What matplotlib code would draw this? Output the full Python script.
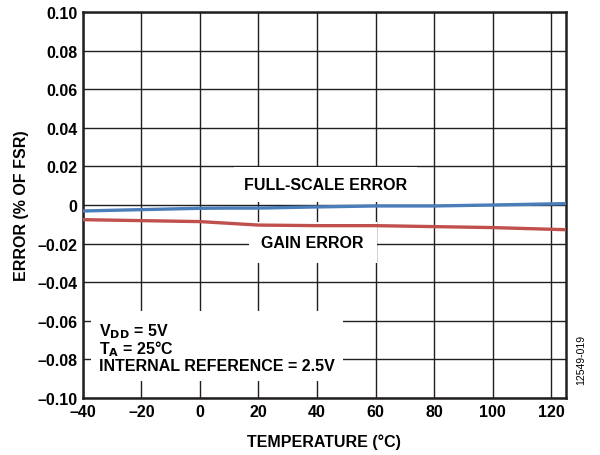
import matplotlib
matplotlib.use("Agg")
import matplotlib.pyplot as plt
import numpy as np

plt.rcParams['font.family'] = ['Liberation Sans', 'DejaVu Sans']
plt.rcParams['font.weight'] = 'bold'

temp = [-40, -20, 0, 10, 20, 40, 60, 80, 100, 125]
fs_err = [-0.0031, -0.0024, -0.0017, -0.0016, -0.0016, -0.0010, -0.0005, -0.0005, 0.0000, 0.0007]
gain_err = [-0.0076, -0.0081, -0.0086, -0.0095, -0.0104, -0.0107, -0.0107, -0.0112, -0.0117, -0.0128]

xticks = [-40, -20, 0, 20, 40, 60, 80, 100, 120]
yticks = [-0.10, -0.08, -0.06, -0.04, -0.02, 0, 0.02, 0.04, 0.06, 0.08, 0.10]

fig = plt.figure(figsize=(6, 4.56), dpi=100)
ax = fig.add_axes([0.138, 0.125, 0.805, 0.8465])

ax.plot(temp, fs_err, color='#4a7ebb', lw=2.4, zorder=3)
ax.plot(temp, gain_err, color='#c0504d', lw=2.4, zorder=3)

ax.set_xlim(-40, 125)
ax.set_ylim(-0.10, 0.10)
ax.set_xticks(xticks)
ax.set_yticks(yticks)

def fmt_y(v):
    if abs(v) < 1e-9:
        return '0'
    s = '%.2f' % abs(v)
    return ('\u2013' + s) if v < 0 else s

ax.set_xticklabels([('\u2013%d' % -t) if t < 0 else '%d' % t for t in xticks])
ax.set_yticklabels([fmt_y(v) for v in yticks])
ax.tick_params(length=0, labelsize=11.5, pad=4)
for lbl in ax.get_xticklabels() + ax.get_yticklabels():
    lbl.set_fontweight('bold')

ax.grid(True, color='#231f20', lw=1.0, zorder=1)
ax.set_axisbelow(True)
for sp in ax.spines.values():
    sp.set_linewidth(1.8)
    sp.set_color('#231f20')

ax.set_xlabel('TEMPERATURE (\u00b0C)', fontsize=11.5, fontweight='bold', labelpad=11)
ax.set_ylabel('ERROR (% OF FSR)', fontsize=11.5, fontweight='bold', labelpad=6)

ax.text(43, 0.0105, 'FULL-SCALE ERROR', ha='center', va='center', fontsize=11.5,
        fontweight='bold', bbox=dict(facecolor='white', edgecolor='none', pad=7), zorder=2)
ax.text(38.5, -0.0195, 'GAIN ERROR', ha='center', va='center', fontsize=11.5,
        fontweight='bold', bbox=dict(facecolor='white', edgecolor='none',
                                     boxstyle='square,pad=0.8'), zorder=2)
ax.text(-34.5, -0.0735, 'V$_{\\mathbf{DD}}$ = 5V\nT$_{\\mathbf{A}}$ = 25\u00b0C\nINTERNAL REFERENCE = 2.5V',
        ha='left', va='center', fontsize=11.5, fontweight='bold', linespacing=0.95,
        bbox=dict(facecolor='white', edgecolor='none', pad=6), zorder=2)

fig.text(0.968, 0.21, '12549-019', rotation=90, fontsize=7.5, fontweight='normal',
         ha='center', va='center')

fig.savefig('out.png', dpi=100)
